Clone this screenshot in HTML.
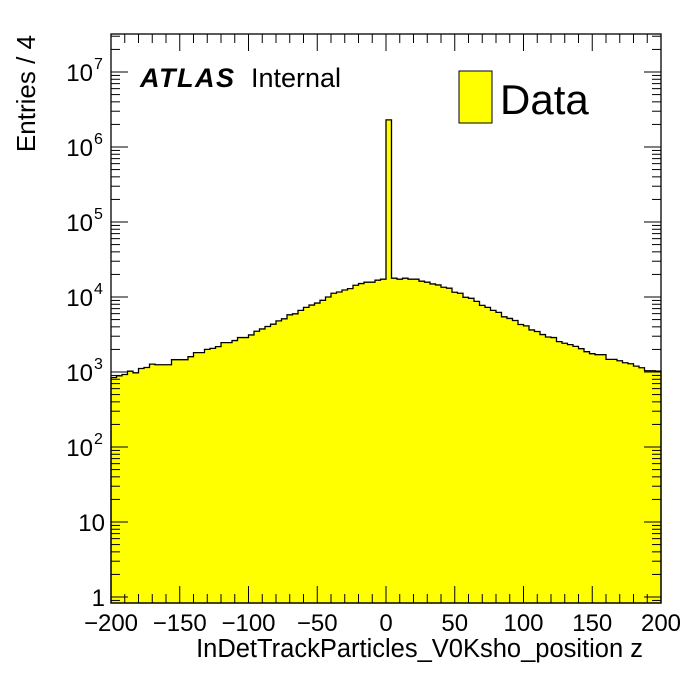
<!DOCTYPE html>
<html><head><meta charset="utf-8"><style>
body{margin:0;background:#fff;}
svg text{font-family:"Liberation Sans",sans-serif;}
</style></head><body>
<svg id="c" width="696" height="672" xmlns="http://www.w3.org/2000/svg"></svg>
<script>
const binEdges0 = -200, binWidth = 4;
const counts = [844,889,926,1025,976,1114,1149,1273,1250,1250,1250,1459,1459,1459,1600,1811,1811,2004,2066,2178,
2466,2466,2624,2878,2878,3119,3497,3751,4043,4341,4808,5116,5784,5970,6628,7274,7812,8305,9031,10000,
11220,11670,12410,12920,14360,15100,15750,15750,16750,17290,2300000,17830,17290,17830,17290,17290,16240,15750,14930,14490,
13490,13100,11560,11220,9910,9610,8750,7740,7274,6628,6235,5443,5176,4863,4302,4124,3639,3467,3156,2931,
2878,2543,2415,2317,2198,2047,1866,1754,1701,1701,1472,1472,1413,1328,1288,1197,1140,1038,1038,1025];
const xTicks = [-200,-150,-100,-50,0,50,100,150,200];
const yDecades = [0,1,2,3,4,5,6,7];
const yLabels = ["1","10","10","10","10","10","10","10"];
const ySups = ["","","2","3","4","5","6","7"];

const L=111,R=661,T=34,B=603;
const X=v=>L+(v+200)/400*(R-L);
const Y=v=>597-Math.log10(v)*75;
const s=document.getElementById('c');
const NS="http://www.w3.org/2000/svg";
function el(t,a,p){const e=document.createElementNS(NS,t);for(const k in a)e.setAttribute(k,a[k]);(p||s).appendChild(e);return e;}

let d=`M${X(binEdges0)},${B}`;
counts.forEach((c,i)=>{const x0=X(binEdges0+i*binWidth),x1=X(binEdges0+(i+1)*binWidth);const y=Math.max(T,Math.min(B,Y(c)));d+=` L${x0},${y} L${x1},${y}`;});
d+=` L${R},${B} Z`;
const h=el('path',{d:d,fill:'#ffff00',stroke:'#000','stroke-width':1.3});



const f=el('rect',{x:L,y:T,width:R-L,height:B-T,fill:'none',stroke:'#000','stroke-width':1.3});



for(let v=-200;v<=200;v+=10){
  const x=X(v);const len=(v%50===0)?17:9;
  el('line',{x1:x,x2:x,y1:B,y2:B-len,stroke:'#000','stroke-width':1});
  el('line',{x1:x,x2:x,y1:T,y2:T+len,stroke:'#000','stroke-width':1});
}
xTicks.forEach(v=>{
  const t=el('text',{x:X(v),y:631,'font-size':24,'text-anchor':'middle'});
  t.textContent=(v<0?'\u2212'+(-v):String(v));
  
  
});
for(let dd=-1;dd<=7;dd++){
  for(let m=1;m<=9;m++){
    const v=m*Math.pow(10,dd);const y=Y(v);if(y<T||y>B)continue;
    const len=m===1?17:9;
    el('line',{x1:L,x2:L+len,y1:y,y2:y,stroke:'#000','stroke-width':1});
    el('line',{x1:R,x2:R-len,y1:y,y2:y,stroke:'#000','stroke-width':1});
  }
}
yDecades.forEach((dd,i)=>{
  const y=Y(Math.pow(10,dd));
  const t=el('text',{x:ySups[i]?93:105,y:y+9,'font-size':24,'text-anchor':'end'});
  t.textContent=yLabels[i];
  
  
  if(ySups[i]){const sp=el('text',{x:94,y:y-3,'font-size':16});sp.textContent=ySups[i];}
});
const xt=el('text',{x:643,y:657,'font-size':25.5,'text-anchor':'end'});
xt.textContent='InDetTrackParticles_V0Ksho_position z';


const yt=el('text',{x:0,y:0,'font-size':26,'text-anchor':'end',transform:'translate(35,35) rotate(-90)'});
yt.textContent='Entries / 4';


const at=el('text',{x:140,y:87,'font-size':27,'font-weight':'bold','font-style':'italic','letter-spacing':'1.5'});
at.textContent='ATLAS';


const it=el('text',{x:251,y:87,'font-size':27});
it.textContent='Internal';


const lb=el('rect',{x:459,y:71,width:33,height:52,fill:'#ffff00',stroke:'#000','stroke-width':1});


const lt=el('text',{x:500,y:114,'font-size':42});
lt.textContent='Data';


</script>
</body></html>
